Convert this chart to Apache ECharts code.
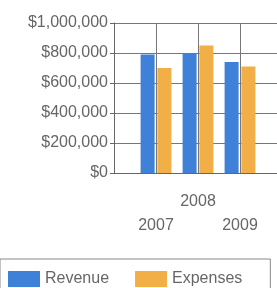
<!DOCTYPE html>
<html>
<head>
<meta charset="utf-8">
<script src="https://cdn.jsdelivr.net/npm/echarts@6/dist/echarts.min.js"></script>
<style>
  html, body { margin: 0; padding: 0; background: #fff; }
  #chart { width: 277px; height: 288px; }
</style>
</head>
<body>
<div id="chart"></div>
<script>
const years = ['2007', '2008', '2009']
const revenue = [790000, 800000, 740000]
const expenses = [700000, 850000, 710000]
const seriesNames = ['Revenue', 'Expenses']

// one empty slot either side, so the years sit on the inner gridlines
const pad = arr => [null, ...arr, null]
const axisCats = ['', ...years, '']

const chart = echarts.init(document.getElementById('chart'))

const option = {
  animation: false,
  textStyle: { fontFamily: 'Liberation Sans, Arial, sans-serif' },
  // plot runs past the right edge of the picture
  grid: { left: 114, width: 168, top: 23, height: 150, outerBoundsMode: 'none' },
  xAxis: {
    type: 'category',
    data: axisCats,
    boundaryGap: false,
    axisLine: { show: true, lineStyle: { color: '#666' } },
    axisTick: { show: false },
    splitLine: { show: true, lineStyle: { color: '#777', width: 1 } },
    axisLabel: {
      interval: 0,
      margin: 17,
      fontSize: 16,
      lineHeight: 24,
      color: '#666',
      // staggered labels: middle year on top row
      formatter: (v, i) => (i === 2 ? v : '\n' + v)
    }
  },
  yAxis: {
    type: 'value',
    min: 0,
    max: 1000000,
    interval: 200000,
    axisLine: { show: true, lineStyle: { color: '#666' } },
    axisTick: { show: true, length: 4, lineStyle: { color: '#666' } },
    splitLine: { lineStyle: { color: '#777', width: 1 } },
    axisLabel: {
      margin: 6,
      fontSize: 16,
      color: '#666',
      formatter: v => '$' + v.toLocaleString('en-US')
    }
  },
  legend: {
    left: 0,
    top: 259,
    padding: [12, 28, 10, 8],
    borderColor: '#888',
    borderWidth: 1,
    itemWidth: 32,
    itemHeight: 16,
    itemGap: 26,
    icon: 'rect',
    textStyle: { fontSize: 16, color: '#666' },
    data: seriesNames
  },
  series: [
    {
      name: seriesNames[0],
      type: 'bar',
      data: pad(revenue),
      barWidth: 14,
      barGap: '20%',
      itemStyle: { color: '#3f80d8' }
    },
    {
      name: seriesNames[1],
      type: 'bar',
      data: pad(expenses),
      barWidth: 14,
      itemStyle: { color: '#f2ae47' }
    }
  ]
}

chart.setOption(option)
</script>
</body>
</html>
